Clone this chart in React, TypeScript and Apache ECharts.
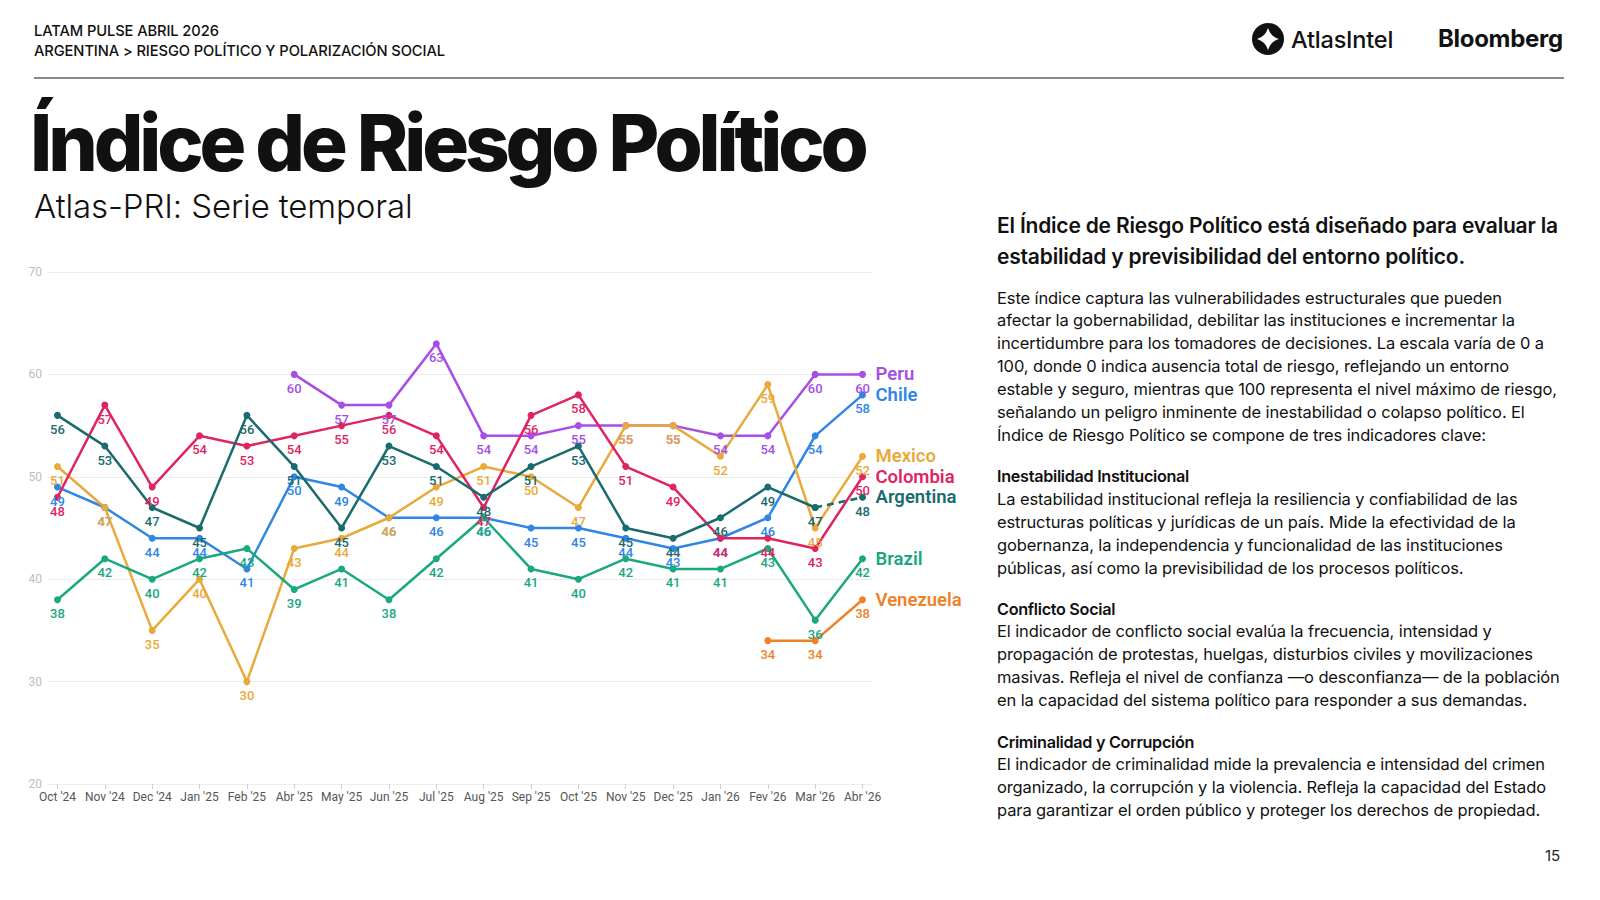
import React, { useEffect, useRef } from "react";
import * as echarts from "echarts";

const categories = ["Oct '24", "Nov '24", "Dec '24", "Jan '25", "Feb '25", "Abr '25", "May '25", "Jun '25", "Jul '25", "Aug '25", "Sep '25", "Oct '25", "Nov '25", "Dec '25", "Jan '26", "Fev '26", "Mar '26", "Abr '26"];
const yTicks = [20, 30, 40, 50, 60, 70];

const peru = [null, null, null, null, null, 60, 57, 57, 63, 54, 54, 55, 55, 55, 54, 54, 60, 60];
const chile = [49, 47, 44, 44, 41, 50, 49, 46, 46, 46, 45, 45, 44, 43, 44, 46, 54, 58];
const mexico = [51, 47, 35, 40, 30, 43, 44, 46, 49, 51, 50, 47, 55, 55, 52, 59, 45, 52];
const colombia = [48, 57, 49, 54, 53, 54, 55, 56, 54, 47, 56, 58, 51, 49, 44, 44, 43, 50];
const argentina = [56, 53, 47, 45, 56, 51, 45, 53, 51, 48, 51, 53, 45, 44, 46, 49, 47, 48];
const brazil = [38, 42, 40, 42, 43, 39, 41, 38, 42, 46, 41, 40, 42, 41, 41, 43, 36, 42];
const venezuela = [null, null, null, null, null, null, null, null, null, null, null, null, null, null, null, 34, 34, 38];

const seriesDefs = [
  { name: "Peru", values: peru, color: "#a64ee6" },
  { name: "Chile", values: chile, color: "#2f86e6" },
  { name: "Mexico", values: mexico, color: "#e9a93b" },
  { name: "Colombia", values: colombia, color: "#de2560" },
  { name: "Argentina", values: argentina, color: "#1a6b6e" },
  { name: "Brazil", values: brazil, color: "#19a87f" },
  { name: "Venezuela", values: venezuela, color: "#ee8227" },
];

const introLines = [
  "Este índice captura las vulnerabilidades estructurales que pueden",
  "afectar la gobernabilidad, debilitar las instituciones e incrementar la",
  "incertidumbre para los tomadores de decisiones. La escala varía de 0 a",
  "100, donde 0 indica ausencia total de riesgo, reflejando un entorno",
  "estable y seguro, mientras que 100 representa el nivel máximo de riesgo,",
  "señalando un peligro inminente de inestabilidad o colapso político. El",
  "Índice de Riesgo Político se compone de tres indicadores clave:",
];
const sections = [
  {
    title: "Inestabilidad Institucional",
    top: 476.5,
    lines: [
      "La estabilidad institucional refleja la resiliencia y confiabilidad de las",
      "estructuras políticas y jurídicas de un país. Mide la efectividad de la",
      "gobernanza, la independencia y funcionalidad de las instituciones",
      "públicas, así como la previsibilidad de los procesos políticos.",
    ],
  },
  {
    title: "Conflicto Social",
    top: 609,
    lines: [
      "El indicador de conflicto social evalúa la frecuencia, intensidad y",
      "propagación de protestas, huelgas, disturbios civiles y movilizaciones",
      "masivas. Refleja el nivel de confianza —o desconfianza— de la población",
      "en la capacidad del sistema político para responder a sus demandas.",
    ],
  },
  {
    title: "Criminalidad y Corrupción",
    top: 742,
    lines: [
      "El indicador de criminalidad mide la prevalencia e intensidad del crimen",
      "organizado, la corrupción y la violencia. Refleja la capacidad del Estado",
      "para garantizar el orden público y proteger los derechos de propiedad.",
    ],
  },
];

const FONT = "Inter, 'Noto Sans', sans-serif";
const CFONT = "Roboto, 'Noto Sans', sans-serif";

function toPairs(values: (number | null)[], from = 0, to = 999) {
  const out: any[] = [];
  values.forEach((v, i) => {
    if (v !== null && v !== undefined && i >= from && i <= to) out.push([i, v]);
  });
  return out;
}

function buildSeries() {
  const list: any[] = [];
  const last = categories.length - 1;
  seriesDefs.forEach((d) => {
    const base = {
      type: "line",
      name: d.name,
      symbol: "circle",
      symbolSize: 7,
      lineStyle: { width: 2.5, color: d.color },
      itemStyle: { color: d.color },
      emphasis: { disabled: true },
      label: {
        show: true,
        position: "bottom",
        distance: 4,
        color: d.color,
        fontSize: 13,
        fontWeight: 500,
        fontFamily: CFONT,
        formatter: (p: any) => String(p.value[1]),
      },
    };
    const endLabel = {
      show: true,
      formatter: (p: any) => p.seriesName,
      color: d.color,
      fontSize: 18.5,
      fontWeight: 600,
      fontFamily: CFONT,
      distance: 13,
    };
    if (d.name === "Argentina") {
      list.push({ ...base, data: toPairs(d.values, 0, last - 1) });
      const dashed = toPairs(d.values, last - 1, last).map((pt, k) =>
        k === 0 ? { value: pt, label: { show: false } } : { value: pt }
      );
      list.push({
        ...base,
        lineStyle: { width: 2.5, color: d.color, type: [7, 5] },
        data: dashed,
        endLabel,
      });
    } else {
      list.push({ ...base, data: toPairs(d.values), endLabel });
    }
  });
  return list;
}

function AtlasIcon() {
  return (
    <svg width="34" height="34" viewBox="-17 -17 34 34" style={{ position: "absolute", left: 1251, top: 22 }}>
      <circle cx="0" cy="0" r="16" fill="#111" />
      <path d="M0,-11 Q2.5,-2.5 11,0 Q2.5,2.5 0,11 Q-2.5,2.5 -11,0 Q-2.5,-2.5 0,-11 Z" fill="#fff" />
    </svg>
  );
}

export default function App() {
  const ref = useRef<HTMLDivElement>(null);
  useEffect(() => {
    if (!ref.current) return;
    const chart = echarts.init(ref.current, null, { renderer: "svg" });
    const idx = categories.map((_, i) => i);
    chart.setOption({
      animation: false,
      grid: { left: 48, right: 108, top: 32, bottom: 56, containLabel: false },
      xAxis: {
        type: "value",
        min: -0.2,
        max: 17.2,
        splitLine: { show: false },
        axisLine: { show: false },
        axisTick: { show: true, customValues: idx, length: 5, lineStyle: { color: "#d0d0d0" } },
        axisLabel: {
          customValues: idx,
          formatter: (v: number) => categories[Math.round(v)] ?? "",
          color: "#555",
          fontSize: 12,
          fontFamily: CFONT,
          margin: 7,
        },
      },
      yAxis: {
        type: "value",
        min: yTicks[0],
        max: yTicks[yTicks.length - 1],
        interval: 10,
        axisLine: { show: false },
        axisTick: { show: false },
        axisLabel: { color: "#bdbdbd", fontSize: 12, fontFamily: CFONT, margin: 6 },
        splitLine: { lineStyle: { color: "#ececec", width: 1 } },
      },
      series: buildSeries(),
    });
    return () => chart.dispose();
  }, []);

  const abs = (style: any) => ({ position: "absolute" as const, whiteSpace: "nowrap" as const, ...style });
  const body = { fontSize: 16.5, lineHeight: "23px", fontWeight: 400, letterSpacing: -0.12 };

  return (
    <div style={{ position: "absolute", left: 0, top: 0, width: 1600, height: 900, background: "#fff", fontFamily: FONT, color: "#111", overflow: "hidden" }}>
      <div style={abs({ left: 34, top: 21, fontSize: 14.7, lineHeight: "20px", fontWeight: 500, letterSpacing: -0.1 })}>LATAM PULSE ABRIL 2026</div>
      <div style={abs({ left: 34, top: 41, fontSize: 14.7, lineHeight: "20px", fontWeight: 500, letterSpacing: -0.1 })}>ARGENTINA &gt; RIESGO POLÍTICO Y POLARIZACIÓN SOCIAL</div>
      <div style={{ position: "absolute", left: 34, top: 76.5, width: 1530, height: 2, background: "#8a8a8a" }} />
      <AtlasIcon />
      <div style={abs({ left: 1291, top: 25, fontSize: 23.5, lineHeight: "30px", fontWeight: 500, letterSpacing: -0.2 })}>AtlasIntel</div>
      <div style={abs({ left: 1438, top: 24, fontSize: 24, lineHeight: "30px", fontWeight: 700, letterSpacing: -0.3 })}>Bloomberg</div>

      <div style={abs({ left: 30, top: 104, fontSize: 78, lineHeight: "78px", fontWeight: 800, letterSpacing: -4.1 })}>Índice de Riesgo Político</div>
      <div style={abs({ left: 34, top: 189, fontSize: 33, lineHeight: "34px", fontWeight: 300, letterSpacing: -0.1 })}>Atlas-PRI: Serie temporal</div>

      <div ref={ref} style={{ position: "absolute", left: 0, top: 240, width: 980, height: 600 }} />

      <div style={abs({ left: 997, top: 211, fontSize: 21, lineHeight: "30px", fontWeight: 600, letterSpacing: -0.2 })}>El Índice de Riesgo Político está diseñado para evaluar la</div>
      <div style={abs({ left: 997, top: 242, fontSize: 21, lineHeight: "30px", fontWeight: 600, letterSpacing: -0.2 })}>estabilidad y previsibilidad del entorno político.</div>
      {introLines.map((t, i) => (
        <div key={"i" + i} style={abs({ left: 997, top: 298 - 11.5 + i * 22.96, ...body })}>{t}</div>
      ))}
      {sections.map((s, si) => (
        <React.Fragment key={"s" + si}>
          <div style={abs({ left: 997, top: s.top - 11.5, fontSize: 16.2, lineHeight: "23px", fontWeight: 600, letterSpacing: -0.3 })}>{s.title}</div>
          {s.lines.map((t, i) => (
            <div key={"l" + i} style={abs({ left: 997, top: s.top - 11.5 + (i + 1) * 22.96, ...body })}>{t}</div>
          ))}
        </React.Fragment>
      ))}
      <div style={abs({ left: 1545, top: 846, fontSize: 15, lineHeight: "20px", color: "#222" })}>15</div>
    </div>
  );
}
